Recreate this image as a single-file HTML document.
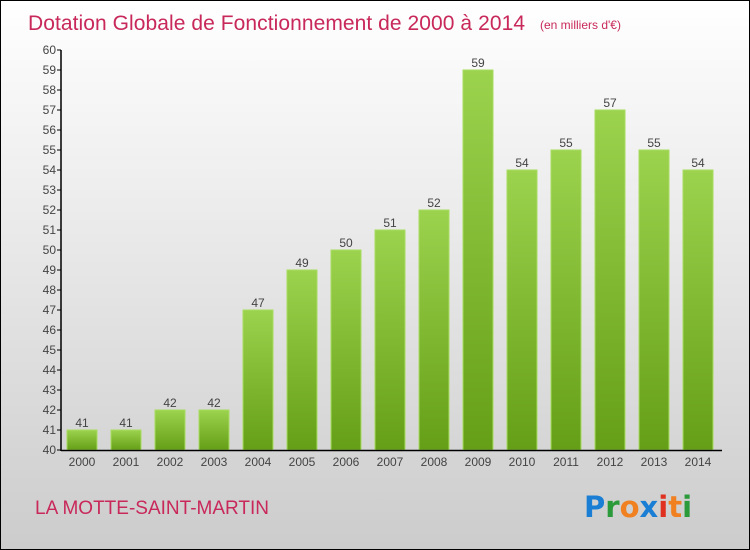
<!DOCTYPE html>
<html><head><meta charset="utf-8"><style>
body{margin:0}
#c{position:relative;width:748px;height:548px;border:1px solid #000;background:linear-gradient(#fff,#ccc);font-family:"Liberation Sans",sans-serif;overflow:hidden}
</style></head><body>
<div id="c">
<svg width="748" height="548" id="s">
<defs><linearGradient id="g" x1="0" y1="0" x2="0" y2="1"><stop offset="0" stop-color="#9cd34e"/><stop offset="1" stop-color="#659e17"/></linearGradient></defs>
<text x="27" y="29" font-size="21" fill="#c8285a" textLength="497">Dotation Globale de Fonctionnement de 2000 à 2014</text>
<text x="539" y="28" font-size="12" fill="#c8285a">(en milliers d'€)</text>
<text x="34" y="513" font-size="19" fill="#c8285a">LA MOTTE-SAINT-MARTIN</text>
<g font-size="29" font-weight="bold" font-family="'DejaVu Sans',sans-serif">
<text x="583" y="516"><tspan fill="#1a7fd4">P</tspan><tspan fill="#2a9a3a">r</tspan><tspan fill="#f08020">o</tspan><tspan fill="#1a7fd4">x</tspan><tspan fill="#e03020">i</tspan><tspan fill="#f08020">t</tspan><tspan fill="#2a9a3a">i</tspan></text></g>
<g id="plot"></g>
</svg></div>
<script>
const years=["2000","2001","2002","2003","2004","2005","2006","2007","2008","2009","2010","2011","2012","2013","2014"];
const values=[41,41,42,42,47,49,50,51,52,59,54,55,57,55,54];
const yTicks=[40,41,42,43,44,45,46,47,48,49,50,51,52,53,54,55,56,57,58,59,60];
const NS="http://www.w3.org/2000/svg";
const plotEl=document.getElementById('plot');
const x0=60,bottom=449,yMin=40,yMax=60,plotTop=49,pitch=44,bw=30,off=6;
const ys=v=>bottom-(v-yMin)/(yMax-yMin)*(bottom-plotTop);
const xb=i=>x0+off+i*pitch;
function mk(t,a){const e=document.createElementNS(NS,t);for(const k in a)e.setAttribute(k,a[k]);plotEl.appendChild(e);return e;}
yTicks.forEach(t=>{
 const l=mk('line',{x1:x0-4,x2:x0,y1:ys(t),y2:ys(t),stroke:'#000'});
 
 
 const tx=mk('text',{x:x0-5,y:ys(t)+4,'font-size':12,'text-anchor':'end',fill:'#444'});tx.textContent=t;
 
 
});
values.forEach((v,i)=>{
 const r=mk('rect',{x:xb(i),y:ys(v),width:bw,height:bottom-ys(v),fill:'url(#g)',stroke:'#a8dc60','stroke-width':1});
 
 
 const t=mk('text',{x:xb(i)+bw/2,y:ys(v)-3,'font-size':12,'text-anchor':'middle',fill:'#444'});t.textContent=v;
 
 
 const xl=mk('text',{x:xb(i)+bw/2,y:bottom+16,'font-size':12,'text-anchor':'middle',fill:'#444'});xl.textContent=years[i];
 
 
});
const ya=mk('line',{x1:x0,x2:x0,y1:plotTop,y2:bottom+1,stroke:'#000','stroke-width':1.5});


const xa=mk('line',{x1:x0,x2:721,y1:bottom+0.5,y2:bottom+0.5,stroke:'#000','stroke-width':1.5});


</script>
</body></html>
